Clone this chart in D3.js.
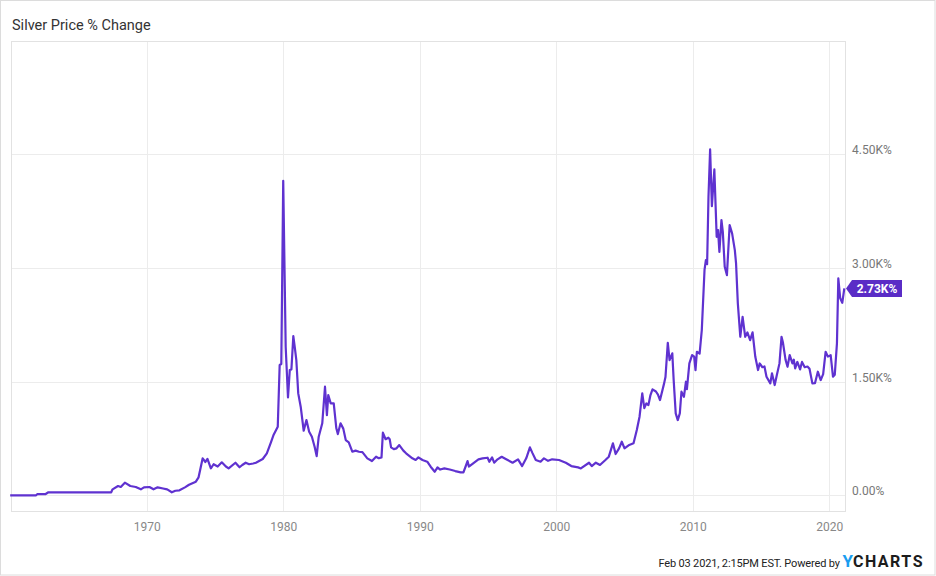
<!DOCTYPE html>
<html>
<head>
<meta charset="utf-8">
<script src="https://cdn.jsdelivr.net/npm/d3@7"></script>
<style>
  body { margin: 0; background: #fff; }
  svg { font-family: Roboto, "Open Sans", sans-serif; display: block; }
</style>
</head>
<body>
<svg id="chart"></svg>
<script>
// silver price % change since Jan 1960 (decimal years)
const years = [
  1960.0, 1961.9, 1962.0, 1962.6, 1962.8, 1967.4, 1967.5, 1967.9, 1968.1, 1968.4,
  1968.8, 1969.2, 1969.57, 1969.8, 1970.2, 1970.5, 1970.8, 1971.2, 1971.5, 1971.84,
  1972.1, 1972.4, 1972.8, 1973.1, 1973.6, 1973.8, 1974.1, 1974.3, 1974.45, 1974.7,
  1974.9, 1975.2, 1975.5, 1975.8, 1976.0, 1976.5, 1976.8, 1977.0, 1977.25, 1977.5,
  1977.8, 1978.0, 1978.5, 1978.8, 1979.1, 1979.3, 1979.6, 1979.74, 1979.86, 1980.0,
  1980.18, 1980.35, 1980.48, 1980.6, 1980.74, 1980.85, 1980.96, 1981.1, 1981.28, 1981.5,
  1981.7, 1981.9, 1982.1, 1982.3, 1982.45, 1982.6, 1982.86, 1983.06, 1983.2, 1983.3,
  1983.48, 1983.7, 1983.89, 1984.0, 1984.2, 1984.4, 1984.58, 1984.8, 1985.06, 1985.3,
  1985.55, 1985.8, 1986.16, 1986.5, 1986.8, 1987.0, 1987.2, 1987.3, 1987.5, 1987.7,
  1987.8, 1987.9, 1988.1, 1988.3, 1988.5, 1988.8, 1989.0, 1989.46, 1989.7, 1989.9,
  1990.2, 1990.55, 1990.8, 1991.1, 1991.3, 1991.5, 1991.8, 1992.2, 1992.6, 1993.0,
  1993.2, 1993.4, 1993.5, 1993.6, 1994.3, 1994.6, 1994.97, 1995.1, 1995.3, 1995.45,
  1995.7, 1996.0, 1996.3, 1996.8, 1997.2, 1997.5, 1997.8, 1998.07, 1998.25, 1998.5,
  1998.85, 1999.1, 1999.4, 1999.7, 2000.2, 2000.7, 2001.1, 2001.6, 2001.8, 2002.4,
  2002.6, 2002.9, 2003.2, 2003.6, 2003.85, 2004.15, 2004.35, 2004.6, 2004.8, 2005.0,
  2005.3, 2005.66, 2005.9, 2006.1, 2006.3, 2006.45, 2006.6, 2006.75, 2006.9, 2007.05,
  2007.3, 2007.45, 2007.6, 2007.9, 2008.0, 2008.17, 2008.3, 2008.5, 2008.6, 2008.75,
  2008.9, 2009.05, 2009.17, 2009.35, 2009.5, 2009.57, 2009.75, 2009.95, 2010.1, 2010.2,
  2010.3, 2010.5, 2010.66, 2010.86, 2010.96, 2011.05, 2011.15, 2011.27, 2011.4, 2011.58,
  2011.75, 2011.85, 2011.95, 2012.1, 2012.2, 2012.34, 2012.5, 2012.7, 2012.88, 2013.08,
  2013.17, 2013.3, 2013.48, 2013.65, 2013.84, 2014.0, 2014.2, 2014.38, 2014.58, 2014.78,
  2014.9, 2015.1, 2015.25, 2015.4, 2015.68, 2015.8, 2016.0, 2016.15, 2016.35, 2016.5,
  2016.6, 2016.8, 2016.94, 2017.1, 2017.3, 2017.4, 2017.5, 2017.66, 2017.86, 2018.0,
  2018.2, 2018.4, 2018.55, 2018.76, 2018.95, 2019.16, 2019.37, 2019.55, 2019.73, 2019.9,
  2020.1, 2020.27, 2020.4, 2020.56, 2020.66, 2020.8, 2020.95, 2021.1
];
const pctChange = [
  0, 0, 17, 17, 40, 40, 79, 123, 110, 167,
  123, 110, 79, 105, 110, 79, 105, 90, 79, 40,
  60, 66, 105, 140, 180, 237, 488, 440, 480, 356,
  410, 380, 435, 380, 356, 430, 370, 400, 430, 410,
  420, 430, 479, 554, 700, 800, 905, 1719, 1732, 4150,
  1960, 1292, 1653, 1660, 2101, 1950, 1785, 1345, 1169, 852,
  993, 839, 773, 641, 518, 773, 950, 1433, 1059, 1323,
  1213, 1213, 884, 808, 950, 880, 729, 700, 575, 590,
  575, 570, 488, 452, 510, 490, 501, 826, 740, 760,
  740, 633, 610, 620, 663, 590, 554, 488, 466, 501,
  466, 443, 377, 311, 369, 340, 355, 340, 320, 303,
  303, 400, 452, 380, 475, 488, 496, 443, 501, 430,
  475, 509, 480, 430, 475, 386, 488, 633, 560, 466,
  443, 488, 455, 475, 466, 430, 386, 369, 355, 430,
  386, 430, 400, 466, 510, 686, 545, 620, 707, 620,
  660, 686, 861, 1037, 1345, 1150, 1213, 1190, 1323, 1398,
  1370, 1330, 1257, 1477, 1560, 2013, 1785, 1873, 1521, 1081,
  993, 1081, 1367, 1300, 1499, 1400, 1741, 1851, 1830, 1653,
  1894, 1870, 2180, 2974, 3104, 3050, 3939, 4564, 3816, 4300,
  3411, 3499, 3213, 3631, 3477, 3015, 2906, 3565, 3456, 3235,
  3060, 2533, 2092, 2356, 2092, 2150, 2048, 2150, 1828, 1653,
  1740, 1690, 1700, 1565, 1477, 1610, 1455, 1580, 1741, 2092,
  2020, 1785, 1696, 1851, 1740, 1790, 1675, 1760, 1662, 1760,
  1690, 1700, 1670, 1477, 1480, 1631, 1521, 1600, 1894, 1830,
  1850, 1565, 1590, 2004, 2862, 2600, 2540, 2730
];
const xTicks = [1970, 1980, 1990, 2000, 2010, 2020];
const yTicks = [0, 1500, 3000, 4500];
const lastLabel = "2.73K%";

const W = 936, H = 576;
const plot = { left: 11, right: 845, top: 41, bottom: 511 };
const purple = "#5f32d0";

const svg = d3.select("#chart").attr("width", W).attr("height", H);

// outer frame
svg.append("rect")
    .attr("x", 0.5).attr("y", 0.5)
    .attr("width", W - 1.5).attr("height", H - 1.5)
    .attr("fill", "#fff").attr("stroke", "#dcdcdc");

const x = d3.scaleLinear()
    .domain([1960.06, 2021.15])
    .range([plot.left, plot.right]);

const y = d3.scaleLinear()
    .domain([-207, 5995])
    .range([plot.bottom, plot.top]);

// title
svg.append("text")
    .attr("x", 12).attr("y", 30)
    .attr("font-size", 14.5).attr("fill", "#333")
    .text("Silver Price % Change");

// grid
const grid = svg.append("g").attr("stroke", "#ececec").attr("stroke-width", 1);
grid.selectAll(".vg").data(xTicks).enter().append("line")
    .attr("x1", d => Math.round(x(d)) + 0.5).attr("x2", d => Math.round(x(d)) + 0.5)
    .attr("y1", plot.top).attr("y2", plot.bottom);
grid.selectAll(".hg").data(yTicks).enter().append("line")
    .attr("x1", plot.left).attr("x2", plot.right)
    .attr("y1", d => Math.round(y(d)) + 0.5).attr("y2", d => Math.round(y(d)) + 0.5);

// plot frame
svg.append("rect")
    .attr("x", plot.left + 0.5).attr("y", plot.top + 0.5)
    .attr("width", plot.right - plot.left).attr("height", plot.bottom - plot.top)
    .attr("fill", "none").attr("stroke", "#e2e2e2");

// x axis
const xAxis = svg.append("g")
    .attr("transform", "translate(0," + plot.bottom + ")")
    .call(d3.axisBottom(x).tickValues(xTicks).tickFormat(d3.format("d")).tickSize(0).tickPadding(11));
xAxis.select(".domain").remove();
xAxis.selectAll("text").attr("font-family", "Roboto").attr("font-size", 12).attr("fill", "#888");

// y axis on the right
const fmtY = d => d === 0 ? "0.00%" : (d / 1000).toFixed(2) + "K%";
const yAxis = svg.append("g")
    .attr("transform", "translate(" + plot.right + ",0)")
    .call(d3.axisRight(y).tickValues(yTicks).tickFormat(fmtY).tickSize(0).tickPadding(7));
yAxis.select(".domain").remove();
yAxis.selectAll("text")
    .attr("font-family", "Roboto").attr("font-size", 12).attr("fill", "#777")
    .attr("dy", "-0.05em");

// the line
const data = years.map((yr, i) => ({ yr: yr, v: pctChange[i] }));
const line = d3.line()
    .x(d => x(d.yr))
    .y(d => y(d.v));

svg.append("path")
    .datum(data)
    .attr("d", line)
    .attr("fill", "none")
    .attr("stroke", purple)
    .attr("stroke-width", 2.2)
    .attr("stroke-linejoin", "round");

// last value flag
const ly = y(pctChange[pctChange.length - 1]);
const flag = svg.append("g").attr("transform", "translate(" + plot.right + "," + ly + ")");
flag.append("path")
    .attr("d", "M1,0 L7,-8.5 L57,-8.5 L57,8.5 L7,8.5 Z")
    .attr("fill", "#5a2cc6");
flag.append("text")
    .attr("x", 32).attr("y", 4.3)
    .attr("text-anchor", "middle")
    .attr("font-size", 12).attr("font-weight", "bold").attr("fill", "#fff")
    .text(lastLabel);

// footer
const foot = svg.append("text")
    .attr("x", 924).attr("y", 567)
    .attr("text-anchor", "end")
    .attr("font-size", 11).attr("fill", "#222");
foot.append("tspan").attr("letter-spacing", "-0.15px").text("Feb 03 2021, 2:15PM EST. Powered by ");
foot.append("tspan").attr("font-size", 17).attr("font-weight", "bold")
    .attr("fill", "#1a9df0").text("Y");
foot.append("tspan").attr("font-size", 16).attr("font-weight", "bold")
    .attr("fill", "#1c1c1c").attr("letter-spacing", "1.5px").text("CHARTS");
</script>
</body>
</html>
